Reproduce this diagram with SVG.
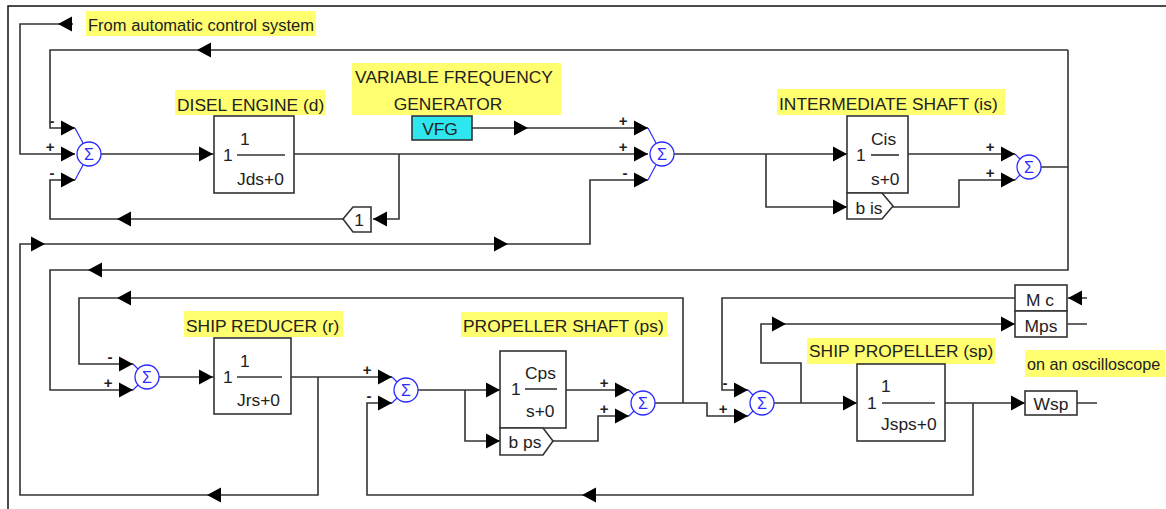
<svg xmlns="http://www.w3.org/2000/svg" xmlns:xlink="http://www.w3.org/1999/xlink" width="1166" height="509" viewBox="0 0 1166 509">
<style>
.ln{fill:none;stroke:#333;stroke-width:1.6}
.bx{fill:#fff;stroke:#333;stroke-width:1.6}
.fr{fill:none;stroke:#111;stroke-width:1.5}
.t{font-family:"Liberation Sans",Arial,sans-serif;font-size:17.4px;fill:#222}
.hl{fill:#ffff70}
.sg{font-family:"Liberation Sans",Arial,sans-serif;font-size:15px;font-weight:bold;fill:#222;text-anchor:middle}
.sc{fill:none;stroke:#2b2bff;stroke-width:1.3}
.sb{fill:none;stroke:#2b2bff;stroke-width:1.2}
.sx{font-family:"Liberation Sans",Arial,sans-serif;font-size:16px;fill:#2b2bff;text-anchor:middle}
.m{text-anchor:middle}
.ah{fill:#000}
</style>
<defs>
<path id="ar" class="ah" d="M0,0 L-14,-7.5 L-14,7.5 Z"/>
<path id="al" class="ah" d="M0,0 L14,-7.5 L14,7.5 Z"/>
</defs>
<rect width="1166" height="509" fill="#fff"/>
<path class="fr" d="M8,509 V6 H1166"/>

<g id="connectors">
<path class="ln" d="M73,24 H20 V154 H75"/>
<path class="ln" d="M1041,167 H1068 M1068,50 V270 H50 V390 H133 M1068,50 H50 V128 H75"/>
<path class="ln" d="M399,154 V219 H373 M343,219 H50 V180 H75"/>
<path class="ln" d="M101,154 H214"/>
<path class="ln" d="M294,154 H648"/>
<path class="ln" d="M472,128 H648"/>
<path class="ln" d="M318,377 V495 H20 V244 H590 V180 H648"/>
<path class="ln" d="M674,154 H847 M766,154 V207 H847"/>
<path class="ln" d="M908,154 H1015 M893,207 H959 V180 H1015"/>
<path class="ln" d="M683,403 V298 H79 V364 H133"/>
<path class="ln" d="M159,377 H214"/>
<path class="ln" d="M291,377 H392"/>
<path class="ln" d="M973,403 V495 H367 V403 H392"/>
<path class="ln" d="M418,390 H500 M465,390 V441 H500"/>
<path class="ln" d="M566,390 H629"/>
<path class="ln" d="M553,441 H598 V416 H629"/>
<path class="ln" d="M655,403 H707 V416 H748"/>
<path class="ln" d="M1015,298 H722 V390 H748 M1068,298 H1087"/>
<path class="ln" d="M1015,324 H761 V363 H801 V403 M1067,324 H1087"/>
<path class="ln" d="M774,403 H857"/>
<path class="ln" d="M945,403 H1025 M1077,403 H1097"/>
<use href="#al" x="58" y="24"/>
<use href="#al" x="197" y="50"/>
<use href="#al" x="117" y="219"/>
<use href="#al" x="373" y="219"/>
<use href="#ar" x="213" y="154"/>
<use href="#ar" x="528" y="128"/>
<use href="#ar" x="45" y="244"/>
<use href="#ar" x="508" y="244"/>
<use href="#al" x="207" y="495"/>
<use href="#ar" x="847" y="154"/>
<use href="#ar" x="847" y="207"/>
<use href="#al" x="88" y="270"/>
<use href="#al" x="117" y="298"/>
<use href="#ar" x="213" y="377"/>
<use href="#al" x="582" y="495"/>
<use href="#ar" x="500" y="390"/>
<use href="#ar" x="500" y="441"/>
<use href="#al" x="1068" y="298"/>
<use href="#ar" x="786" y="324"/>
<use href="#ar" x="1015" y="324"/>
<use href="#ar" x="857" y="403"/>
<use href="#ar" x="1025" y="403"/>
</g>

<g id="label-acs">
<rect class="hl" x="86" y="11" width="230" height="25"/>
<text class="t" x="88" y="31" textLength="226" lengthAdjust="spacingAndGlyphs">From automatic control system</text>
</g>

<g id="sum1" transform="translate(89,154)">
<circle class="sc" r="12"/>
<text class="sx" y="5.7">Σ</text>
<path class="sb" d="M-14,-26 L-6,-11 M-14,26 L-6,11"/>
<use href="#ar" x="-14" y="-26"/><use href="#ar" x="-14" y="0"/><use href="#ar" x="-14" y="26"/>
<text class="sg" x="-37" y="-28">-</text>
<text class="sg" x="-39" y="-2">+</text>
<text class="sg" x="-37" y="24">-</text>
</g>

<g id="disel-engine">
<rect class="hl" x="175" y="90" width="150" height="25"/>
<text class="t" x="177" y="111">DISEL ENGINE (d)</text>
<rect class="bx" x="214" y="116" width="80" height="77"/>
<text class="t" x="223" y="161">1</text>
<text class="t" x="240" y="145">1</text>
<path class="ln" d="M237,155 H285"/>
<text class="t" x="237" y="185">Jds+0</text>
</g>

<g id="gain1">
<path class="bx" d="M343,219 L353,207 H371 V232 H353 Z"/>
<text class="t m" x="359" y="226">1</text>
</g>

<g id="vfg">
<rect class="hl" x="352" y="63" width="209" height="52"/>
<text class="t m" x="454" y="83">VARIABLE FREQUENCY</text>
<text class="t m" x="448" y="110">GENERATOR</text>
<rect x="412" y="116" width="60" height="24" fill="#2ee6ee" stroke="#333" stroke-width="1.6"/>
<text class="t m" x="440" y="135">VFG</text>
</g>

<g id="sum2" transform="translate(662,154)">
<circle class="sc" r="12"/>
<text class="sx" y="5.7">Σ</text>
<path class="sb" d="M-14,-26 L-6,-11 M-14,26 L-6,11"/>
<use href="#ar" x="-14" y="-26"/><use href="#ar" x="-14" y="0"/><use href="#ar" x="-14" y="26"/>
<text class="sg" x="-39" y="-28">+</text>
<text class="sg" x="-39" y="-2">+</text>
<text class="sg" x="-37" y="24">-</text>
</g>

<g id="intermediate-shaft">
<rect class="hl" x="777" y="89" width="228" height="26"/>
<text class="t" x="779" y="110">INTERMEDIATE SHAFT (is)</text>
<rect class="bx" x="847" y="116" width="61" height="77"/>
<text class="t" x="856" y="161">1</text>
<text class="t" x="871" y="145">Cis</text>
<path class="ln" d="M871,155 H899"/>
<text class="t" x="871" y="185">s+0</text>
</g>

<g id="b-is">
<path class="bx" d="M847,193 H882 L893,206 L882,219 H847 Z"/>
<text class="t m" x="869" y="214">b is</text>
</g>

<g id="sum3" transform="translate(1029,167)">
<circle class="sc" r="12"/>
<text class="sx" y="5.7">Σ</text>
<path class="sb" d="M-14,-13 L-9,-8 M-14,13 L-9,8"/>
<use href="#ar" x="-14" y="-13"/><use href="#ar" x="-14" y="13"/>
<text class="sg" x="-39" y="-15">+</text>
<text class="sg" x="-39" y="11">+</text>
</g>

<g id="sum4" transform="translate(147,377)">
<circle class="sc" r="12"/>
<text class="sx" y="5.7">Σ</text>
<path class="sb" d="M-14,-13 L-9,-8 M-14,13 L-9,8"/>
<use href="#ar" x="-14" y="-13"/><use href="#ar" x="-14" y="13"/>
<text class="sg" x="-37" y="-15">-</text>
<text class="sg" x="-39" y="11">+</text>
</g>

<g id="ship-reducer">
<rect class="hl" x="184" y="311" width="159" height="26"/>
<text class="t" x="186" y="332">SHIP REDUCER (r)</text>
<rect class="bx" x="214" y="338" width="77" height="76"/>
<text class="t" x="223" y="383">1</text>
<text class="t" x="240" y="367">1</text>
<path class="ln" d="M237,377 H282"/>
<text class="t" x="237" y="406">Jrs+0</text>
</g>

<g id="sum5" transform="translate(406,390)">
<circle class="sc" r="12"/>
<text class="sx" y="5.7">Σ</text>
<path class="sb" d="M-14,-13 L-9,-8 M-14,13 L-9,8"/>
<use href="#ar" x="-14" y="-13"/><use href="#ar" x="-14" y="13"/>
<text class="sg" x="-39" y="-15">+</text>
<text class="sg" x="-37" y="11">-</text>
</g>

<g id="propeller-shaft">
<rect class="hl" x="461" y="312" width="206" height="25"/>
<text class="t" x="463" y="332">PROPELLER SHAFT (ps)</text>
<rect class="bx" x="500" y="351" width="66" height="77"/>
<text class="t" x="511" y="395">1</text>
<text class="t" x="525" y="379">Cps</text>
<path class="ln" d="M525,389 H557"/>
<text class="t" x="526" y="417">s+0</text>
</g>

<g id="b-ps">
<path class="bx" d="M500,428 H543 L553,441 L543,455 H500 Z"/>
<text class="t m" x="525" y="448">b ps</text>
</g>

<g id="sum6" transform="translate(643,403)">
<circle class="sc" r="12"/>
<text class="sx" y="5.7">Σ</text>
<path class="sb" d="M-14,-13 L-9,-8 M-14,13 L-9,8"/>
<use href="#ar" x="-14" y="-13"/><use href="#ar" x="-14" y="13"/>
<text class="sg" x="-39" y="-15">+</text>
<text class="sg" x="-39" y="11">+</text>
</g>

<g id="sum7" transform="translate(762,403)">
<circle class="sc" r="12"/>
<text class="sx" y="5.7">Σ</text>
<path class="sb" d="M-14,-13 L-9,-8 M-14,13 L-9,8"/>
<use href="#ar" x="-14" y="-13"/><use href="#ar" x="-14" y="13"/>
<text class="sg" x="-37" y="-15">-</text>
<text class="sg" x="-39" y="11">+</text>
</g>

<g id="mc">
<rect class="bx" x="1015" y="285" width="52" height="26"/>
<text class="t m" x="1040" y="306">M c</text>
</g>
<g id="mps">
<rect class="bx" x="1015" y="311" width="52" height="26"/>
<text class="t m" x="1041" y="332">Mps</text>
</g>

<g id="ship-propeller">
<rect class="hl" x="807" y="338" width="188" height="26"/>
<text class="t" x="809" y="357">SHIP PROPELLER (sp)</text>
<rect class="bx" x="857" y="364" width="88" height="77"/>
<text class="t" x="867" y="409">1</text>
<text class="t" x="881" y="392">1</text>
<path class="ln" d="M882,403 H935"/>
<text class="t" x="881" y="430">Jsps+0</text>
</g>

<g id="oscilloscope-label">
<rect class="hl" x="1025" y="350" width="140" height="27"/>
<text class="t" x="1027" y="370" style="font-size:16.2px">on an oscilloscope</text>
</g>

<g id="wsp">
<rect class="bx" x="1025" y="391" width="52" height="24"/>
<text class="t m" x="1051" y="410">Wsp</text>
</g>
</svg>
